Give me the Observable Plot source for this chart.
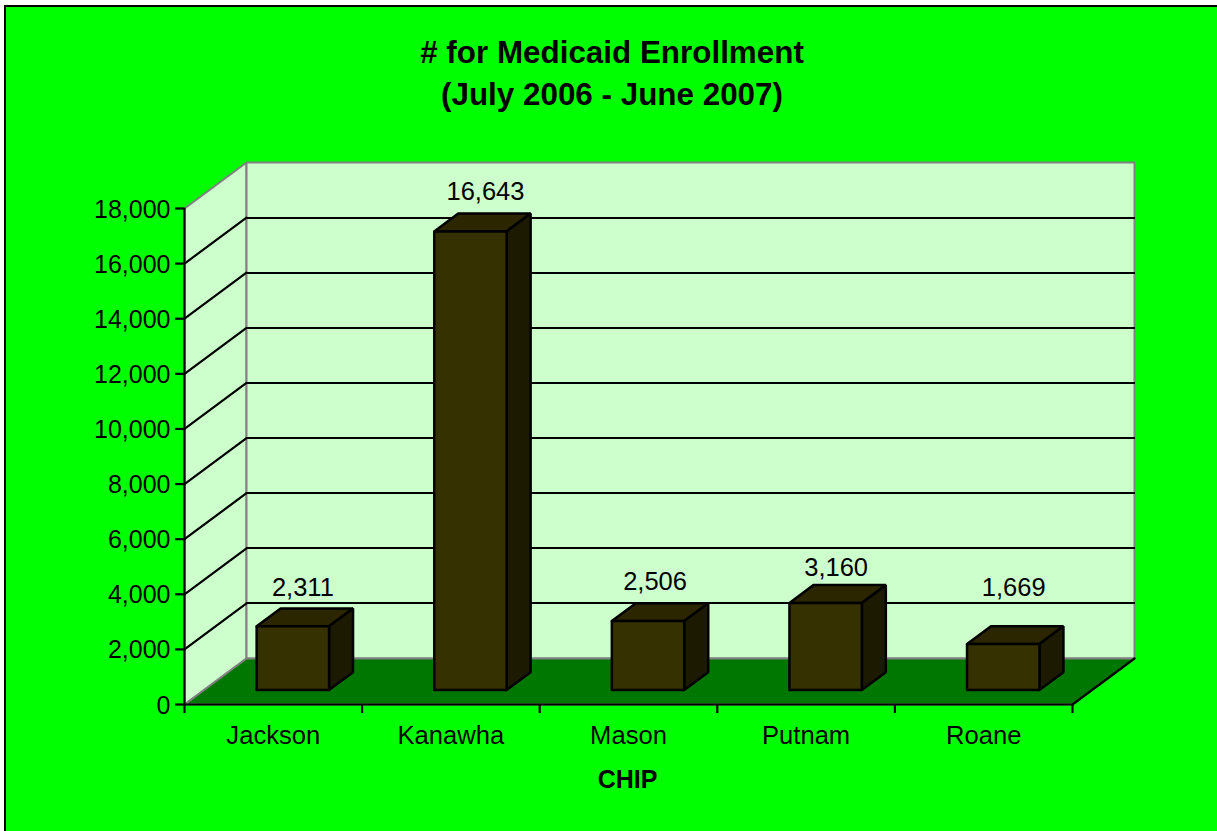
<!DOCTYPE html>
<html>
<head>
<meta charset="utf-8">
<script src="https://cdn.jsdelivr.net/npm/d3@7"></script>
<script src="https://cdn.jsdelivr.net/npm/@observablehq/plot@0.6"></script>
<style>
html,body{margin:0;padding:0;background:#fff;overflow:hidden;width:1217px;height:831px}
#bg{position:absolute;left:4px;top:5px;right:0;bottom:0;background:#00ff00;border-left:2px solid #000;border-top:2px solid #000}
#chart{position:absolute;left:0;top:0}
</style>
</head>
<body>
<div id="bg"></div>
<div id="chart"></div>
<script>
const categories = ["Jackson", "Kanawha", "Mason", "Putnam", "Roane"];
const values = [2311, 16643, 2506, 3160, 1669];
const yTicks = [0, 2000, 4000, 6000, 8000, 10000, 12000, 14000, 16000, 18000];
const gridValues = [2000, 4000, 6000, 8000, 10000, 12000, 14000, 16000];
const titleLines = ["# for Medicaid Enrollment", "(July 2006 - June 2007)"];
const xTitle = "CHIP";

// oblique projection of the 3D box, in data units
const yMax = 18000, slots = categories.length;
const xRange = [184, 1072], yRange = [704, 208];
const pxX = (xRange[1] - xRange[0]) / slots, pxY = (yRange[0] - yRange[1]) / yMax;
const depthX = 62 / pxX, depthY = 46 / pxY;           // full wall depth
const project = (x, y, d) => ({x: x + d * depthX, y: y + d * depthY});
const barDepthStart = 14.5 / 46, barDepthEnd = 32.3 / 46, barHalf = 36.2 / pxX;
const labelLift = [38.5, 39.5, 39.5, 35.5, 56.5];     // px above the bar's front top
const labelShift = [10, 15, 7, 10.5, 10.5];           // px right of the bar's front centre

const closed = (pts) => [...pts, pts[0]];
const poly = (...pts) => pts.map(([x, y, d]) => project(x, y, d));

const leftWall = closed(poly([0,0,0],[0,yMax,0],[0,yMax,1],[0,0,1]));
const backWall = closed(poly([0,0,1],[0,yMax,1],[slots,yMax,1],[slots,0,1]));
const floor = closed(poly([0,0,0],[0,0,1],[slots,0,1],[slots,0,0]));
const gridDiagonals = gridValues.flatMap(v => poly([0,v,0],[0,v,1]).map(p => ({...p, v})));
const gridBack = gridValues.flatMap(v => poly([0,v,1],[slots,v,1]).map(p => ({...p, v})));

const bars = values.map((v, i) => ({v, i, c: i + 0.5}));
const face = (f) => bars.flatMap(b => closed(f(b)).map(p => ({...p, i: b.i})));
const front = face(b => poly([b.c-barHalf,0,barDepthStart],[b.c-barHalf,b.v,barDepthStart],[b.c+barHalf,b.v,barDepthStart],[b.c+barHalf,0,barDepthStart]));
const top_ = face(b => poly([b.c-barHalf,b.v,barDepthStart],[b.c-barHalf,b.v,barDepthEnd],[b.c+barHalf,b.v,barDepthEnd],[b.c+barHalf,b.v,barDepthStart]));
const side = face(b => poly([b.c+barHalf,0,barDepthStart],[b.c+barHalf,b.v,barDepthStart],[b.c+barHalf,b.v,barDepthEnd],[b.c+barHalf,0,barDepthEnd]));

const shape = (data, fill, stroke, z, strokeWidth = 2) => Plot.line(data, {x:"x", y:"y", z, fill, stroke, strokeWidth, strokeLinejoin:"miter"});

const chart = Plot.plot({
  width: 1217, height: 831,
  marginLeft: 184, marginRight: 145, marginTop: 208, marginBottom: 127,
  x: {domain: [0, slots], range: xRange, axis: null},
  y: {domain: [0, yMax], range: yRange, axis: null},
  style: {background: "transparent", fontFamily: "'Liberation Sans', Arial, sans-serif", fontSize: "25px", color: "#000"},
  marks: [
    shape(leftWall, "#ccffcc", "#808080"),
    shape(backWall, "#ccffcc", "#808080"),
    Plot.line(gridDiagonals, {x:"x", y:"y", z:"v", stroke:"#000", strokeWidth:2.2}),
    Plot.line(gridBack, {x:"x", y:"y", z:"v", stroke:"#000", strokeWidth:2, shapeRendering:"crispEdges"}),
    shape(floor, "#007700", "#808080"),
    Plot.line(poly([0,0,0],[slots,0,0],[slots,0,1]), {x:"x", y:"y", stroke:"#000", strokeWidth:2.2}),
    Plot.line(poly([0,0,0],[0,yMax,0]), {x:"x", y:"y", stroke:"#000", strokeWidth:2.2}),
    shape(top_, "#2b2600", "#000", "i", 2.5),
    shape(side, "#1c1a00", "#000", "i", 2.5),
    shape(front, "#363100", "#000", "i", 2.5),
    Plot.axisY({ticks: yTicks, tickFormat: () => "", tickSize: 9, label: null, anchor: "left", strokeWidth: 2.2, stroke: "#000"}),
    Plot.axisY({ticks: yTicks, tickFormat: d3.format(","), tickSize: 0, tickPadding: 14, dy: 1, label: null, anchor: "left", fontSize: 25}),
    Plot.axisX({ticks: d3.range(slots + 1), tickFormat: () => "", tickSize: 9, label: null, anchor: "bottom", strokeWidth: 2.2, stroke: "#000"}),
    Plot.axisX({ticks: categories.map((c, i) => i + 0.5), tickFormat: x => categories[x - 0.5], tickSize: 0, tickPadding: 21, label: null, anchor: "bottom", fontSize: 25.6}),
    Plot.text(bars, {
      x: b => b.c + barDepthStart * depthX + labelShift[b.i] / pxX,
      y: b => b.v + barDepthStart * depthY + labelLift[b.i] / pxY,
      text: b => d3.format(",")(b.v), fill: "#000", fontSize: 25.5, textAnchor: "middle"
    }),
    Plot.text([xTitle], {frameAnchor: "bottom", dy: 83, dx: -1, fontWeight: "bold", fontSize: 25, fill: "#000"}),
    Plot.text([titleLines[0]], {frameAnchor: "top", dy: -168, dx: -16.5, fontWeight: "bold", fontSize: 31.4, fill: "#000"}),
    Plot.text([titleLines[1]], {frameAnchor: "top", dy: -126, dx: -16.5, fontWeight: "bold", fontSize: 31.4, fill: "#000"})
  ]
});
document.getElementById("chart").append(chart);
</script>
</body>
</html>
